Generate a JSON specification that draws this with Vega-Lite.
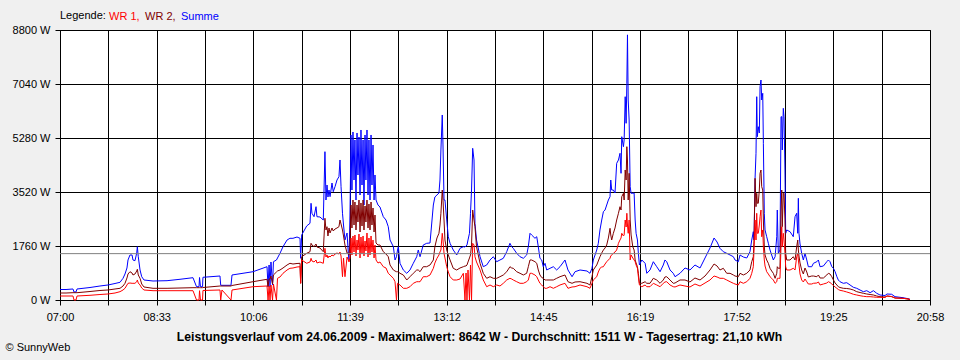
{
"$schema": "https://vega.github.io/schema/vega-lite/v6.json",
"width": 870, "height": 270,
"autosize": {"type": "none"},
"padding": {"left": 60, "top": 30, "right": 30, "bottom": 60},
"background": "#f0f0f0",
"config": {"view": {"fill": "white", "stroke": "black", "strokeWidth": 1}, "font": "Liberation Sans"},
"data": {"values": [
{"t":0,"s":342,"w2":228,"w1":130},{"t":5.8,"s":342,"w2":228,"w1":130},{"t":12.5,"s":359,"w2":238,"w1":130},{"t":13.5,"s":261,"w2":238,"w1":0},{"t":15.4,"s":261,"w2":238,"w1":0},{"t":16.4,"s":359,"w2":238,"w1":130},
{"t":28.9,"s":407,"w2":277,"w1":153},{"t":38.5,"s":456,"w2":310,"w1":179},{"t":46.2,"s":489,"w2":326,"w1":196},{"t":53.0,"s":538,"w2":359,"w1":228},{"t":57.8,"s":577,"w2":381,"w1":271},{"t":60.7,"s":707,"w2":456,"w1":326},
{"t":62.6,"s":847,"w2":544,"w1":381},{"t":64.5,"s":1043,"w2":717,"w1":489},{"t":65.5,"s":1304,"w2":847,"w1":544},{"t":67.4,"s":1467,"w2":922,"w1":554},{"t":69.4,"s":1467,"w2":880,"w1":544},{"t":70.3,"s":1304,"w2":815,"w1":544},
{"t":72.2,"s":1281,"w2":847,"w1":544},{"t":73.9,"s":1532,"w2":945,"w1":596},{"t":74.5,"s":1737,"w2":1001,"w1":652},{"t":75.4,"s":1411,"w2":815,"w1":554},{"t":77.1,"s":978,"w2":707,"w1":489},{"t":78.7,"s":759,"w2":521,"w1":391},
{"t":80.9,"s":652,"w2":424,"w1":326},{"t":89.6,"s":619,"w2":381,"w1":303},{"t":103.1,"s":629,"w2":381,"w1":303},{"t":115.6,"s":675,"w2":391,"w1":303},{"t":128.1,"s":727,"w2":401,"w1":303},{"t":131.5,"s":433,"w2":401,"w1":0},
{"t":133.9,"s":433,"w2":401,"w1":0},{"t":134.4,"s":733,"w2":401,"w1":303},{"t":135.3,"s":433,"w2":401,"w1":0},{"t":137.3,"s":433,"w2":401,"w1":0},{"t":137.7,"s":740,"w2":407,"w1":310},{"t":154.1,"s":782,"w2":456,"w1":326},
{"t":154.8,"s":479,"w2":456,"w1":0},{"t":156.0,"s":479,"w2":456,"w1":326},{"t":164.7,"s":479,"w2":456,"w1":0},{"t":165.7,"s":815,"w2":473,"w1":326},{"t":185.9,"s":922,"w2":596,"w1":433},{"t":199.4,"s":1085,"w2":675,"w1":456},
{"t":200.4,"s":433,"w2":433,"w1":0},{"t":201.4,"s":1141,"w2":684,"w1":456},{"t":202.3,"s":433,"w2":684,"w1":0},{"t":203.2,"s":1239,"w2":782,"w1":489},{"t":204.7,"s":489,"w2":521,"w1":0},{"t":205.6,"s":1248,"w2":815,"w1":521},
{"t":208.5,"s":1304,"w2":913,"w1":0},{"t":209.5,"s":1369,"w2":945,"w1":707},{"t":211.9,"s":1522,"w2":978,"w1":750},{"t":214.8,"s":1737,"w2":1043,"w1":870},{"t":218.7,"s":1956,"w2":1141,"w1":978},{"t":221.5,"s":2011,"w2":1196,"w1":1033},
{"t":224.4,"s":2011,"w2":1173,"w1":1043},{"t":228.3,"s":2053,"w2":1190,"w1":1076},{"t":231.2,"s":2011,"w2":1196,"w1":1085},{"t":231.8,"s":1359,"w2":544,"w1":544},{"t":232.8,"s":2119,"w2":1411,"w1":1304},{"t":237.6,"s":2412,"w2":1522,"w1":1196},
{"t":240.8,"s":2500,"w2":1574,"w1":1239},{"t":241.8,"s":3152,"w2":1848,"w1":1359},{"t":242.7,"s":2826,"w2":1793,"w1":1271},{"t":244.7,"s":2715,"w2":1737,"w1":1239},{"t":246.6,"s":3041,"w2":1825,"w1":1304},{"t":247.5,"s":2715,"w2":1727,"w1":1206},
{"t":250.4,"s":2705,"w2":1695,"w1":1239},{"t":253.6,"s":2607,"w2":1574,"w1":1196},{"t":255.2,"s":4834,"w2":2663,"w1":1685},{"t":256.2,"s":3259,"w2":2282,"w1":1401},{"t":257.2,"s":3748,"w2":2389,"w1":1467},{"t":258.1,"s":3357,"w2":2086,"w1":1369},
{"t":259.1,"s":3585,"w2":2347,"w1":1434},{"t":260.1,"s":3367,"w2":2184,"w1":1401},{"t":262.0,"s":3813,"w2":2347,"w1":1467},{"t":263.2,"s":3530,"w2":2249,"w1":1434},{"t":264.9,"s":3693,"w2":2314,"w1":1499},{"t":266.8,"s":3911,"w2":2347,"w1":1532},
{"t":268.7,"s":4019,"w2":2389,"w1":1499},{"t":269.7,"s":4563,"w2":2607,"w1":1564},{"t":270.7,"s":3693,"w2":2477,"w1":1434},{"t":272.1,"s":2826,"w2":2282,"w1":759},{"t":273.1,"s":2444,"w2":2086,"w1":1369},{"t":274.5,"s":1956,"w2":1793,"w1":759},
{"t":276.5,"s":2184,"w2":1532,"w1":1401},{"t":277.7,"s":1522,"w2":1522,"w1":1304},{"t":278.4,"s":1304,"w2":1467,"w1":1239},{"t":279.3,"s":2770,"w2":1793,"w1":1369},
{"t":280.3,"s":5378,"w2":3096,"w1":2021},{"t":281.2,"s":3585,"w2":2347,"w1":1467},{"t":282.2,"s":5476,"w2":3259,"w1":2086},{"t":283.2,"s":3911,"w2":2444,"w1":1564},{"t":284.1,"s":5215,"w2":3194,"w1":2119},{"t":285.1,"s":3259,"w2":2282,"w1":1434},
{"t":286.1,"s":5443,"w2":3096,"w1":1956},{"t":287.0,"s":4074,"w2":2542,"w1":1630},{"t":288.0,"s":5313,"w2":3259,"w1":2151},{"t":289.0,"s":3422,"w2":2216,"w1":1369},{"t":289.9,"s":5541,"w2":3162,"w1":2053},{"t":290.9,"s":3748,"w2":2412,"w1":1499},
{"t":291.9,"s":5215,"w2":3259,"w1":2086},{"t":292.8,"s":3096,"w2":2282,"w1":1434},{"t":293.8,"s":5378,"w2":3064,"w1":1923},{"t":294.7,"s":3911,"w2":2542,"w1":1597},{"t":295.7,"s":5541,"w2":3259,"w1":2184},{"t":296.7,"s":3422,"w2":2347,"w1":1401},
{"t":297.6,"s":5215,"w2":3129,"w1":2021},{"t":298.6,"s":3259,"w2":2282,"w1":1467},{"t":299.6,"s":5378,"w2":3194,"w1":2086},{"t":300.5,"s":3748,"w2":2444,"w1":1564},{"t":301.5,"s":5052,"w2":2999,"w1":1956},{"t":302.5,"s":3259,"w2":2216,"w1":1369},
{"t":303.4,"s":4074,"w2":2770,"w1":1793},{"t":304.4,"s":3259,"w2":1858,"w1":1304},{"t":306.3,"s":3096,"w2":1793,"w1":1206},{"t":308.2,"s":3031,"w2":1793,"w1":1239},{"t":311.4,"s":2715,"w2":1574,"w1":1085},{"t":314.0,"s":2607,"w2":1499,"w1":1043},
{"t":316.2,"s":2389,"w2":1411,"w1":870},{"t":317.9,"s":1956,"w2":1141,"w1":815},{"t":321.1,"s":1737,"w2":978,"w1":707},{"t":322.7,"s":1304,"w2":945,"w1":596},{"t":324.1,"s":1411,"w2":922,"w1":0},{"t":325.1,"s":1630,"w2":922,"w1":544},
{"t":325.9,"s":1737,"w2":913,"w1":521},{"t":327.5,"s":1196,"w2":870,"w1":489},{"t":330.7,"s":978,"w2":815,"w1":381},{"t":334.0,"s":870,"w2":652,"w1":381},{"t":337.1,"s":978,"w2":759,"w1":433},{"t":340.3,"s":1196,"w2":870,"w1":544},
{"t":343.6,"s":1411,"w2":978,"w1":596},{"t":345.1,"s":1630,"w2":978,"w1":596},{"t":346.8,"s":1411,"w2":922,"w1":596},{"t":349.9,"s":1793,"w2":1085,"w1":759},{"t":353.2,"s":1848,"w2":1085,"w1":759},{"t":356.4,"s":1858,"w2":1141,"w1":815},
{"t":359.6,"s":3096,"w2":1304,"w1":1033},{"t":361.1,"s":3357,"w2":1737,"w1":1206},{"t":363.1,"s":3422,"w2":2021,"w1":1359},{"t":365.0,"s":3487,"w2":2174,"w1":1467},{"t":366.0,"s":3911,"w2":2444,"w1":1564},{"t":366.9,"s":4889,"w2":2826,"w1":1630},
{"t":368.2,"s":6030,"w2":3585,"w1":2174},{"t":368.9,"s":5052,"w2":3259,"w1":1956},{"t":369.9,"s":3259,"w2":2607,"w1":1522},{"t":370.8,"s":3259,"w2":1956,"w1":1369},{"t":372.5,"s":2607,"w2":1630,"w1":1085},{"t":374.0,"s":2063,"w2":1467,"w1":913},
{"t":375.7,"s":1848,"w2":1304,"w1":759},{"t":378.8,"s":1630,"w2":1033,"w1":652},{"t":382.1,"s":1467,"w2":978,"w1":652},{"t":385.3,"s":1685,"w2":1043,"w1":684},{"t":388.5,"s":1737,"w2":1085,"w1":870},{"t":390.1,"s":1727,"w2":1108,"w1":0},
{"t":391.1,"s":1760,"w2":1108,"w1":880},{"t":392.0,"s":1793,"w2":1141,"w1":0},{"t":393.0,"s":1956,"w2":1239,"w1":978},{"t":394.4,"s":2174,"w2":1369,"w1":0},{"t":395.4,"s":2826,"w2":1467,"w1":1141},{"t":396.4,"s":3585,"w2":1793,"w1":0},
{"t":397.5,"s":4944,"w2":2933,"w1":1848},{"t":398.8,"s":4563,"w2":2607,"w1":1793},{"t":399.7,"s":2500,"w2":2389,"w1":1411},{"t":401.2,"s":1956,"w2":1737,"w1":1239},{"t":404.6,"s":1411,"w2":1196,"w1":978},{"t":407.7,"s":1085,"w2":870,"w1":652},
{"t":411.0,"s":1141,"w2":707,"w1":433},{"t":414.2,"s":1304,"w2":759,"w1":489},{"t":417.4,"s":1411,"w2":707,"w1":433},{"t":420.6,"s":1248,"w2":707,"w1":489},{"t":423.8,"s":1304,"w2":759,"w1":456},{"t":427.0,"s":1359,"w2":815,"w1":544},
{"t":430.3,"s":1574,"w2":922,"w1":652},{"t":433.4,"s":1848,"w2":1085,"w1":707},{"t":435.1,"s":1737,"w2":1043,"w1":684},{"t":436.6,"s":1685,"w2":1033,"w1":652},{"t":439.9,"s":1522,"w2":922,"w1":596},{"t":443.1,"s":1411,"w2":870,"w1":544},
{"t":446.3,"s":1359,"w2":815,"w1":544},{"t":449.5,"s":1467,"w2":870,"w1":596},{"t":451.1,"s":1737,"w2":1085,"w1":652},{"t":452.7,"s":2174,"w2":1304,"w1":870},{"t":454.3,"s":2119,"w2":1304,"w1":870},{"t":457.5,"s":2011,"w2":1248,"w1":815},
{"t":459.2,"s":2063,"w2":1196,"w1":759},{"t":460.7,"s":1737,"w2":978,"w1":652},{"t":462.3,"s":1359,"w2":815,"w1":544},{"t":464.0,"s":1304,"w2":733,"w1":489},{"t":465.5,"s":1085,"w2":707,"w1":433},{"t":467.2,"s":1196,"w2":652,"w1":381},
{"t":468.8,"s":978,"w2":652,"w1":381},{"t":472.0,"s":1033,"w2":652,"w1":433},{"t":475.2,"s":1085,"w2":652,"w1":381},{"t":478.4,"s":978,"w2":707,"w1":433},{"t":481.6,"s":1085,"w2":759,"w1":489},{"t":486.4,"s":1304,"w2":815,"w1":544},
{"t":489.3,"s":978,"w2":596,"w1":381},{"t":493.2,"s":759,"w2":544,"w1":424},{"t":496.1,"s":922,"w2":587,"w1":433},{"t":500.9,"s":978,"w2":596,"w1":489},{"t":507.6,"s":945,"w2":544,"w1":433},{"t":510.5,"s":870,"w2":489,"w1":381},
{"t":512.4,"s":1033,"w2":759,"w1":544},{"t":513.7,"s":1304,"w2":978,"w1":652},{"t":517.0,"s":1630,"w2":1141,"w1":759},{"t":518.5,"s":1848,"w2":1271,"w1":913},{"t":520.1,"s":2282,"w2":1411,"w1":1033},{"t":521.8,"s":2607,"w2":1532,"w1":1076},
{"t":523.4,"s":2878,"w2":1630,"w1":1085},{"t":525.0,"s":2933,"w2":1695,"w1":1173},{"t":526.6,"s":3096,"w2":1793,"w1":1248},{"t":528.2,"s":3259,"w2":2021,"w1":1304},{"t":529.8,"s":3367,"w2":2337,"w1":1359},{"t":530.5,"s":3911,"w2":2119,"w1":1434},
{"t":531.4,"s":3585,"w2":1956,"w1":1467},{"t":533.0,"s":3585,"w2":2174,"w1":1522},{"t":534.6,"s":3487,"w2":2347,"w1":1564},{"t":536.2,"s":4455,"w2":2607,"w1":1630},{"t":537.9,"s":4563,"w2":2826,"w1":1848},{"t":539.4,"s":4781,"w2":3041,"w1":1956},
{"t":540.4,"s":4129,"w2":2933,"w1":2021},{"t":541.1,"s":5322,"w2":3367,"w1":2174},{"t":542.7,"s":4997,"w2":3478,"w1":2086},{"t":543.4,"s":5215,"w2":3259,"w1":2119},{"t":544.4,"s":6626,"w2":4237,"w1":2607},{"t":545.3,"s":5759,"w2":3911,"w1":2379},
{"t":546.0,"s":7063,"w2":4997,"w1":2826},{"t":546.6,"s":8642,"w2":4563,"w1":2444},{"t":547.3,"s":6519,"w2":3259,"w1":2174},{"t":548.2,"s":5867,"w2":4129,"w1":2607},{"t":549.2,"s":3693,"w2":2607,"w1":1304},{"t":550.1,"s":3478,"w2":2119,"w1":1467},
{"t":551.7,"s":3478,"w2":1737,"w1":1369},{"t":553.0,"s":3487,"w2":1630,"w1":1304},{"t":554.0,"s":2607,"w2":1304,"w1":1248},{"t":554.9,"s":2174,"w2":1206,"w1":1141},{"t":556.2,"s":1956,"w2":1085,"w1":1033},{"t":557.1,"s":1522,"w2":870,"w1":759},
{"t":558.1,"s":1141,"w2":544,"w1":489},{"t":560.4,"s":1304,"w2":544,"w1":433},{"t":563.6,"s":1196,"w2":596,"w1":489},{"t":565.2,"s":870,"w2":544,"w1":433},{"t":568.3,"s":978,"w2":544,"w1":433},{"t":571.5,"s":1248,"w2":707,"w1":544},
{"t":574.8,"s":1085,"w2":652,"w1":489},{"t":578.0,"s":922,"w2":544,"w1":433},{"t":581.1,"s":1141,"w2":652,"w1":544},{"t":582.7,"s":1304,"w2":750,"w1":587},{"t":584.4,"s":1248,"w2":759,"w1":596},{"t":587.6,"s":978,"w2":652,"w1":489},
{"t":590.7,"s":870,"w2":544,"w1":433},{"t":592.4,"s":759,"w2":554,"w1":424},{"t":597.2,"s":870,"w2":652,"w1":489},{"t":602.0,"s":1043,"w2":652,"w1":456},{"t":606.8,"s":978,"w2":587,"w1":424},{"t":611.6,"s":1141,"w2":717,"w1":521},
{"t":616.5,"s":1043,"w2":652,"w1":456},{"t":621.3,"s":1369,"w2":782,"w1":554},{"t":626.1,"s":1695,"w2":978,"w1":652},{"t":630.0,"s":2021,"w2":1173,"w1":782},{"t":632.9,"s":1890,"w2":1108,"w1":750},{"t":635.7,"s":1685,"w2":978,"w1":707},
{"t":638.9,"s":1574,"w2":1033,"w1":707},{"t":642.2,"s":1522,"w2":870,"w1":652},{"t":645.4,"s":1467,"w2":870,"w1":596},{"t":648.6,"s":1411,"w2":815,"w1":544},{"t":650.2,"s":1304,"w2":782,"w1":521},{"t":653.4,"s":1248,"w2":759,"w1":489},
{"t":655.0,"s":1467,"w2":870,"w1":596},{"t":658.2,"s":1401,"w2":815,"w1":544},{"t":661.5,"s":1369,"w2":870,"w1":596},{"t":664.6,"s":1574,"w2":978,"w1":707},{"t":666.3,"s":1956,"w2":1248,"w1":870},{"t":667.8,"s":2226,"w2":1411,"w1":1085},
{"t":668.5,"s":1956,"w2":1956,"w1":1630},{"t":669.5,"s":3967,"w2":3967,"w1":2607},{"t":670.4,"s":4781,"w2":3041,"w1":1956},{"t":671.1,"s":6626,"w2":3478,"w1":2826},{"t":671.7,"s":5322,"w2":3152,"w1":2174},{"t":672.6,"s":5648,"w2":3152,"w1":2174},
{"t":673.6,"s":5443,"w2":3585,"w1":2444},{"t":674.3,"s":6952,"w2":4129,"w1":2715},{"t":675.2,"s":7170,"w2":4237,"w1":2933},{"t":675.9,"s":6519,"w2":3693,"w1":2063},{"t":676.9,"s":6737,"w2":3585,"w1":2282},{"t":677.5,"s":5107,"w2":2607,"w1":1737},
{"t":678.4,"s":2826,"w2":1737,"w1":1304},{"t":679.1,"s":2282,"w2":1467,"w1":1108},{"t":680.7,"s":2063,"w2":1304,"w1":922},{"t":682.3,"s":1848,"w2":1196,"w1":847},{"t":683.9,"s":1630,"w2":1033,"w1":759},{"t":685.5,"s":1467,"w2":945,"w1":707},
{"t":687.1,"s":1304,"w2":870,"w1":652},{"t":688.8,"s":1411,"w2":707,"w1":544},{"t":690.4,"s":2063,"w2":870,"w1":596},{"t":690.9,"s":2933,"w2":1085,"w1":707},{"t":691.9,"s":1522,"w2":1033,"w1":707},{"t":693.5,"s":1630,"w2":1033,"w1":707},
{"t":694.5,"s":5974,"w2":2933,"w1":1737},{"t":695.2,"s":5974,"w2":3585,"w1":2389},{"t":695.7,"s":4889,"w2":2389,"w1":1737},{"t":696.7,"s":6248,"w2":3478,"w1":2174},{"t":697.4,"s":5974,"w2":3478,"w1":1956},{"t":698.3,"s":4237,"w2":2607,"w1":1532},
{"t":699.0,"s":2174,"w2":1522,"w1":1085},{"t":700.0,"s":2282,"w2":1304,"w1":978},{"t":703.2,"s":2226,"w2":1304,"w1":978},{"t":706.3,"s":2063,"w2":1411,"w1":1033},{"t":708.0,"s":2715,"w2":1304,"w1":978},{"t":709.6,"s":2826,"w2":1737,"w1":1411},
{"t":710.6,"s":2174,"w2":1956,"w1":1522},{"t":711.2,"s":3315,"w2":1630,"w1":1304},{"t":711.8,"s":2174,"w2":1434,"w1":1141},{"t":712.8,"s":1825,"w2":1206,"w1":847},{"t":714.4,"s":1522,"w2":978,"w1":652},{"t":716.0,"s":1304,"w2":847,"w1":587},
{"t":717.6,"s":1522,"w2":1043,"w1":684},{"t":719.3,"s":1304,"w2":913,"w1":596},{"t":720.8,"s":1085,"w2":750,"w1":521},{"t":724.1,"s":1085,"w2":782,"w1":521},{"t":725.7,"s":1196,"w2":782,"w1":544},{"t":729.0,"s":1248,"w2":759,"w1":554},
{"t":730.5,"s":1304,"w2":815,"w1":587},{"t":732.1,"s":1085,"w2":717,"w1":489},{"t":735.3,"s":1108,"w2":717,"w1":521},{"t":738.6,"s":1248,"w2":815,"w1":554},{"t":740.1,"s":1304,"w2":870,"w1":596},{"t":741.7,"s":1248,"w2":847,"w1":570},
{"t":743.4,"s":1085,"w2":759,"w1":521},{"t":745.0,"s":1033,"w2":652,"w1":473},{"t":746.6,"s":922,"w2":554,"w1":424},{"t":748.3,"s":759,"w2":489,"w1":381},{"t":749.7,"s":652,"w2":433,"w1":342},{"t":751.3,"s":596,"w2":407,"w1":316},
{"t":754.5,"s":544,"w2":381,"w1":293},{"t":757.8,"s":564,"w2":375,"w1":261},{"t":761.0,"s":489,"w2":359,"w1":228},{"t":764.2,"s":414,"w2":326,"w1":186},{"t":767.4,"s":381,"w2":271,"w1":163},{"t":770.6,"s":326,"w2":244,"w1":140},
{"t":773.8,"s":271,"w2":218,"w1":121},{"t":777.1,"s":303,"w2":196,"w1":108},{"t":780.3,"s":238,"w2":179,"w1":108},{"t":783.5,"s":303,"w2":163,"w1":98},{"t":786.7,"s":218,"w2":130,"w1":88},{"t":789.8,"s":163,"w2":108,"w1":88},
{"t":794.7,"s":147,"w2":98,"w1":81},{"t":796.6,"s":196,"w2":130,"w1":130},{"t":801.1,"s":186,"w2":108,"w1":114},{"t":804.3,"s":108,"w2":65,"w1":65},{"t":812.0,"s":75,"w2":55,"w1":55},{"t":816.8,"s":42,"w2":33,"w1":33},{"t":818.7,"s":23,"w2":16,"w1":16}
]},
"layer": [
{"transform": [{"fold": ["s", "w2", "w1"], "as": ["k", "v"]}],
 "mark": {"type": "line", "strokeWidth": 1},
 "encoding": {
  "x": {"field": "t", "type": "quantitative", "scale": {"domain": [0, 838], "nice": false, "zero": false},
   "axis": {"values": [0, 46.556, 93.111, 139.667, 186.222, 232.778, 279.333, 325.889, 372.444, 419, 465.556, 512.111, 558.667, 605.222, 651.778, 698.333, 744.889, 791.444, 838],
    "labelExpr": "['07:00','','08:33','','10:06','','11:39','','13:12','','14:45','','16:19','','17:52','','19:25','','20:58'][round(datum.value/46.5556)]",
    "grid": true, "gridColor": "black", "gridOpacity": 1, "gridWidth": 1,
    "domainColor": "black", "tickColor": "black", "tickSize": 5, "tickWidth": 1,
    "labelPadding": 6, "labelFontSize": 11, "labelColor": "black", "labelFont": "Liberation Sans", "labelFlush": false, "labelOverlap": false,
    "title": "Leistungsverlauf vom 24.06.2009 - Maximalwert: 8642 W - Durchschnitt: 1511 W - Tagesertrag: 21,10 kWh",
    "titleFont": "Liberation Sans", "titleFontSize": 12.2, "titleFontWeight": "bold", "titleColor": "black",
    "titleX": 419, "titleY": 40, "titleAlign": "center", "titleBaseline": "alphabetic"}},
  "y": {"field": "v", "type": "quantitative", "scale": {"domain": [0, 8800], "nice": false},
   "axis": {"values": [0, 1760, 3520, 5280, 7040, 8800], "labelExpr": "datum.value + ' W'",
    "grid": true, "gridColor": "black", "gridOpacity": 1, "gridWidth": 1,
    "domainColor": "black", "tickColor": "black", "tickSize": 5, "tickWidth": 1,
    "labelPadding": 5, "labelFontSize": 11, "labelColor": "black", "labelFont": "Liberation Sans", "labelFlush": false, "labelOverlap": false,
    "title": "© SunnyWeb", "titleFont": "Liberation Sans", "titleFontSize": 11, "titleFontWeight": "normal", "titleColor": "black",
    "titleAngle": 0, "titleX": -55, "titleY": 320.7, "titleAlign": "left", "titleBaseline": "alphabetic"}},
  "color": {"field": "k", "type": "nominal",
   "scale": {"domain": ["w1", "w2", "s"], "range": ["#ff0000", "#800000", "#0000ff"]},
   "legend": {"orient": "none", "legendX": 0, "legendY": -19, "direction": "horizontal",
    "title": "Legende:", "titleOrient": "left", "titleFont": "Liberation Sans", "titleFontSize": 11, "titleFontWeight": "normal", "titleColor": "black", "titlePadding": 3.5,
    "labelFont": "Liberation Sans", "labelFontSize": 11, "labelOffset": -11.5, "columnPadding": 4, "padding": 0,
    "symbolSize": 1, "symbolOpacity": 0, "symbolStrokeWidth": 0.001,
    "labelExpr": "datum.label == 'w1' ? 'WR 1,' : datum.label == 'w2' ? 'WR 2,' : 'Summe'",
    "encode": {"labels": {"update": {"fill": {"signal": "datum.value == 'w1' ? '#ff0000' : datum.value == 'w2' ? '#800000' : '#0000ff'"}}}}}}
 }},
{"data": {"values": [{"avg": 1511}]},
 "mark": {"type": "rule", "color": "#808080", "strokeWidth": 1},
 "encoding": {"y": {"field": "avg", "type": "quantitative"}}}
]
}
